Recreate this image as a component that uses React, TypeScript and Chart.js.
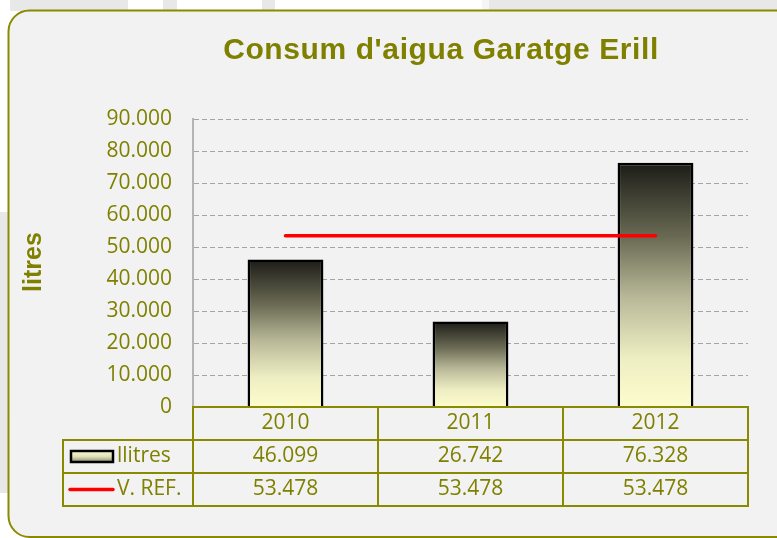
import React, { useEffect, useRef } from 'react';
import { Chart, registerables } from 'chart.js';

Chart.register(...registerables);

const titleText = "Consum d'aigua Garatge Erill";
const yAxisTitle = 'litres';
const categories = ['2010', '2011', '2012'];
const seriesNames = ['llitres', 'V. REF.'];
const litres = [46099, 26742, 76328];
const vRef = [53478, 53478, 53478];
const yMin = 0;
const yMax = 90000;
const yStep = 10000;

const OLIVE = '#808000';
const OLIVE_BORDER = '#8a8a00';
const TEXT_FONT = '21px "Open Sans"';

const fmt = (v: number) => String(Math.round(v)).replace(/\B(?=(\d{3})+(?!\d))/g, '.');

const barGradient = (ctx: CanvasRenderingContext2D, top: number, bottom: number) => {
  const g = ctx.createLinearGradient(0, top, 0, bottom);
  g.addColorStop(0, '#1c1c18');
  g.addColorStop(0.3, '#696953');
  g.addColorStop(0.55, '#b8b898');
  g.addColorStop(0.8, '#eeeec3');
  g.addColorStop(1, '#fcfccd');
  return g;
};

const roundRect = (c: CanvasRenderingContext2D, x: number, y: number, w: number, h: number, r: number) => {
  c.beginPath();
  c.moveTo(x + r, y);
  c.lineTo(x + w - r, y);
  c.arcTo(x + w, y, x + w, y + r, r);
  c.lineTo(x + w, y + h - r);
  c.arcTo(x + w, y + h, x + w - r, y + h, r);
  c.lineTo(x + r, y + h);
  c.arcTo(x, y + h, x, y + h - r, r);
  c.lineTo(x, y + r);
  c.arcTo(x, y, x + r, y, r);
  c.closePath();
};

const decorPlugin = {
  id: 'decor',
  beforeDraw(chart: any) {
    const c: CanvasRenderingContext2D = chart.ctx;
    const W = chart.width;
    const H = chart.height;
    c.save();
    c.fillStyle = '#ffffff';
    c.fillRect(0, 0, W, H);
    c.fillStyle = '#e8e8e8';
    c.fillRect(10, 0, 118, 11);
    c.fillRect(163, 0, 14, 11);
    c.fillRect(262, 0, 13, 11);
    c.fillRect(489, 0, W - 489, 11);
    c.fillRect(0, 212, 8, 281);
    c.fillStyle = '#f5f5f5';
    c.fillRect(482, 0, 7, 11);
    // card
    roundRect(c, 8.5, 10.5, 790, 526.5, 21);
    c.fillStyle = '#f2f2f2';
    c.fill();
    c.lineWidth = 2;
    c.strokeStyle = OLIVE_BORDER;
    c.stroke();
    // title
    c.fillStyle = OLIVE;
    c.font = 'bold 30px "Liberation Sans", Arial, sans-serif';
    (c as any).letterSpacing = '0.6px';
    c.textAlign = 'center';
    c.textBaseline = 'alphabetic';
    c.fillText(titleText, 441, 59);
    (c as any).letterSpacing = '0px';
    // y axis title
    c.save();
    c.translate(34, 262);
    c.rotate(-Math.PI / 2);
    c.font = 'bold 25px "Liberation Sans", Arial, sans-serif';
    c.textAlign = 'center';
    c.textBaseline = 'middle';
    c.fillText(yAxisTitle, 0, 0);
    c.restore();
    c.restore();
  },
  afterDraw(chart: any) {
    const c: CanvasRenderingContext2D = chart.ctx;
    const area = chart.chartArea;
    const xs = chart.scales.x;
    const left = area.left;
    const right = area.right;
    const colW = (right - left) / categories.length;
    const rowTop = area.bottom;
    const rowH = 33;
    const tableLeft = 63;
    c.save();
    c.strokeStyle = OLIVE_BORDER;
    c.lineWidth = 2;
    c.strokeRect(left, rowTop, right - left, rowH);
    c.strokeRect(tableLeft, rowTop + rowH, right - tableLeft, rowH * 2);
    c.beginPath();
    c.moveTo(tableLeft, rowTop + rowH * 2);
    c.lineTo(right, rowTop + rowH * 2);
    for (let i = 0; i <= categories.length; i++) {
      const x = left + colW * i;
      c.moveTo(x, rowTop);
      c.lineTo(x, rowTop + rowH * 3);
    }
    c.stroke();
    c.fillStyle = OLIVE;
    c.font = TEXT_FONT;
    c.textAlign = 'center';
    c.textBaseline = 'middle';
    categories.forEach((cat, i) => {
      const x = xs.getPixelForValue(i);
      c.fillText(cat, x, rowTop + rowH / 2);
      c.fillText(fmt(litres[i]), x, rowTop + rowH * 1.5);
      c.fillText(fmt(vRef[i]), x, rowTop + rowH * 2.5);
    });
    c.textAlign = 'left';
    c.fillText(seriesNames[0], 117, rowTop + rowH * 1.5);
    c.fillText(seriesNames[1], 117, rowTop + rowH * 2.5);
    const sy = rowTop + rowH * 1.5 - 5.5;
    const sg = c.createLinearGradient(0, sy, 0, sy + 11);
    sg.addColorStop(0, '#fafad2');
    sg.addColorStop(0.5, '#e0e0b8');
    sg.addColorStop(1, '#8c8c74');
    c.fillStyle = sg;
    c.fillRect(71, sy, 42, 11);
    c.strokeStyle = '#000000';
    c.lineWidth = 2.5;
    c.strokeRect(71, sy, 42, 11);
    c.strokeStyle = '#ff0000';
    c.lineWidth = 3.5;
    c.lineCap = 'round';
    c.beginPath();
    c.moveTo(70, rowTop + rowH * 2.5);
    c.lineTo(113, rowTop + rowH * 2.5);
    c.stroke();
    c.restore();
  },
};

export default function App() {
  const ref = useRef<HTMLCanvasElement | null>(null);
  useEffect(() => {
    if (!ref.current) return;
    document.body.style.margin = '0';
    const chart = new Chart(ref.current, {
      type: 'bar',
      data: {
        labels: categories,
        datasets: [
          {
            type: 'line',
            label: seriesNames[1],
            data: vRef,
            borderColor: '#ff0000',
            borderWidth: 3.5,
            pointRadius: 0,
            borderCapStyle: 'round',
            order: 0,
          } as any,
          {
            type: 'bar',
            label: seriesNames[0],
            data: litres,
            borderColor: '#000000',
            borderWidth: 2.5,
            borderSkipped: 'bottom',
            categoryPercentage: 1,
            barPercentage: 0.41,
            order: 1,
            backgroundColor: (ctx: any) => {
              const chart = ctx.chart;
              if (ctx.type !== 'data' || !chart.chartArea) return '#e0e0b0';
              const y = chart.scales.y;
              const top = y.getPixelForValue(ctx.raw);
              const bottom = y.getPixelForValue(0);
              return barGradient(chart.ctx, top, bottom);
            },
          } as any,
        ],
      },
      options: {
        responsive: false,
        animation: false,
        devicePixelRatio: 1,
        layout: { padding: { left: 0, top: 119, right: 29, bottom: 131 } },
        plugins: {
          legend: { display: false },
          title: { display: false },
          tooltip: { enabled: false },
        },
        scales: {
          x: { display: false, offset: true },
          y: {
            min: yMin,
            max: yMax,
            afterFit: (s: any) => {
              s.width = 193;
            },
            ticks: {
              stepSize: yStep,
              color: OLIVE,
              padding: 21,
              font: { family: 'Open Sans', size: 21 },
              callback: (v: any) => fmt(Number(v)),
            },
            grid: {
              color: '#a4a4a4',
              lineWidth: 1,
              drawTicks: false,
            },
            border: {
              display: true,
              color: '#b4b4b4',
              width: 2,
              dash: [5, 3],
            },
          },
        },
      } as any,
      plugins: [decorPlugin],
    });
    return () => chart.destroy();
  }, []);
  return (
    <div style={{ position: 'absolute', left: 0, top: 0, width: 777, height: 538 }}>
      <canvas ref={ref} width={777} height={538} />
    </div>
  );
}
